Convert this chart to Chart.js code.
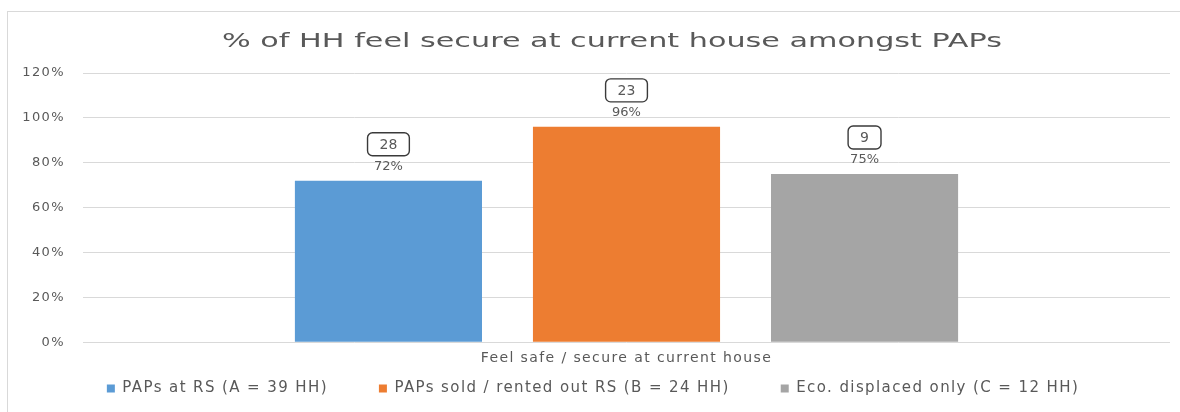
<!DOCTYPE html>
<html>
<head>
<meta charset="utf-8">
<script src="https://cdn.jsdelivr.net/npm/chart.js@4"></script>
<style>
  html, body { margin: 0; padding: 0; background: #ffffff; overflow: hidden; }
  #frame {
    position: absolute; left: 7px; top: 11px;
    width: 1220px; height: 430px;
    border: 1px solid #d9d9d9;
  }
  #secureChart { display: block; }
</style>
</head>
<body>
<div id="frame"><canvas id="secureChart" width="1172" height="400"></canvas></div>
<script>
// Dữ liệu biểu đồ
const categories = ['Feel safe / secure at current house'];
const seriesNames = ['PAPs at RS (A = 39 HH)', 'PAPs sold / rented out RS (B = 24 HH)', 'Eco. displaced only (C = 12 HH)'];
const percentValues = [72, 96, 75];
const countValues = [28, 23, 9];
const seriesColors = ['#5b9bd5', '#ed7d31', '#a5a5a5'];
const yTicks = [0, 20, 40, 60, 80, 100, 120];
const chartTitle = '% of HH feel secure at current house amongst PAPs';

const textColor = '#595959';
const fontFamily = "'DejaVu Sans', 'Noto Sans', sans-serif";
const baseSpacing = '1.4px';

// Giãn chữ cho nhãn trục và chú giải
const spacing = {
    id: 'spacing',
    beforeUpdate(chart) { chart.ctx.letterSpacing = baseSpacing; },
    beforeDraw(chart) { chart.ctx.letterSpacing = baseSpacing; }
};

// Tiêu đề vẽ tay, kéo giãn ngang cho rộng 780px
const wideTitle = {
    id: 'wideTitle',
    afterDraw(chart) {
        const ctx = chart.ctx;
        ctx.save();
        ctx.letterSpacing = '0px';
        ctx.font = `19px ${fontFamily}`;
        ctx.fillStyle = textColor;
        ctx.textAlign = 'center';
        ctx.textBaseline = 'middle';
        const sx = 780 / ctx.measureText(chartTitle).width;
        ctx.translate(604, 30);
        ctx.scale(sx, 1);
        ctx.fillText(chartTitle, 0, 0);
        ctx.restore();
    }
};

// Nhãn trên cột: số hộ trong khung + phần trăm
const barLabels = {
    id: 'barLabels',
    afterDatasetsDraw(chart) {
        const ctx = chart.ctx;
        ctx.save();
        ctx.letterSpacing = '0px';
        chart.data.datasets.forEach((ds, i) => {
            const bar = chart.getDatasetMeta(i).data[0];
            if (!bar) return;
            const x = bar.x;
            const top = bar.y;
            ctx.fillStyle = textColor;
            ctx.font = `13px ${fontFamily}`;
            ctx.textAlign = 'center';
            ctx.textBaseline = 'alphabetic';
            ctx.fillText(ds.data[0] + '%', x, top - 11);

            const count = String(countValues[i]);
            ctx.font = `14px ${fontFamily}`;
            const w = ctx.measureText(count).width + 24;
            const h = 23;
            const by = top - 48;
            ctx.strokeStyle = '#3a3a3a';
            ctx.lineWidth = 1.4;
            ctx.beginPath();
            ctx.roundRect(x - w / 2, by, w, h, 5);
            ctx.stroke();
            ctx.textBaseline = 'middle';
            ctx.fillText(count, x, by + h / 2 + 1);
        });
        ctx.restore();
    }
};

const canvas = document.getElementById('secureChart');
new Chart(canvas.getContext('2d'), {
    type: 'bar',
    data: {
        labels: categories,
        datasets: seriesNames.map((name, i) => ({
            label: name,
            data: [percentValues[i]],
            backgroundColor: seriesColors[i],
            borderWidth: 0,
            categoryPercentage: 0.657,
            barPercentage: 0.786
        }))
    },
    options: {
        responsive: false,
        animation: false,
        layout: { padding: { left: 8, right: 10, top: 61, bottom: 6 } },
        plugins: {
            title: { display: false },
            legend: {
                position: 'bottom',
                labels: {
                    color: textColor,
                    font: { family: fontFamily, size: 15 },
                    boxWidth: 8,
                    boxHeight: 8,
                    padding: 14,
                    // khoảng trống giữa các mục chú giải
                    generateLabels(chart) {
                        const items = Chart.defaults.plugins.legend.labels.generateLabels(chart);
                        items.forEach((item, i) => {
                            if (i < items.length - 1) item.text += '      ';
                        });
                        return items;
                    }
                }
            },
            tooltip: { enabled: false }
        },
        scales: {
            y: {
                min: 0,
                max: 120,
                afterBuildTicks(axis) {
                    axis.ticks = yTicks.map(v => ({ value: v }));
                },
                afterFit(axis) { axis.width = 67; },
                grid: { color: '#d9d9d9', drawTicks: false },
                border: { display: false },
                ticks: {
                    color: textColor,
                    font: { family: fontFamily, size: 13 },
                    padding: 18,
                    callback: v => v + '%'
                }
            },
            x: {
                grid: { display: false },
                border: { display: false },
                ticks: {
                    color: textColor,
                    font: { family: fontFamily, size: 14 },
                    padding: 0
                }
            }
        }
    },
    plugins: [spacing, wideTitle, barLabels]
});
</script>
</body>
</html>
